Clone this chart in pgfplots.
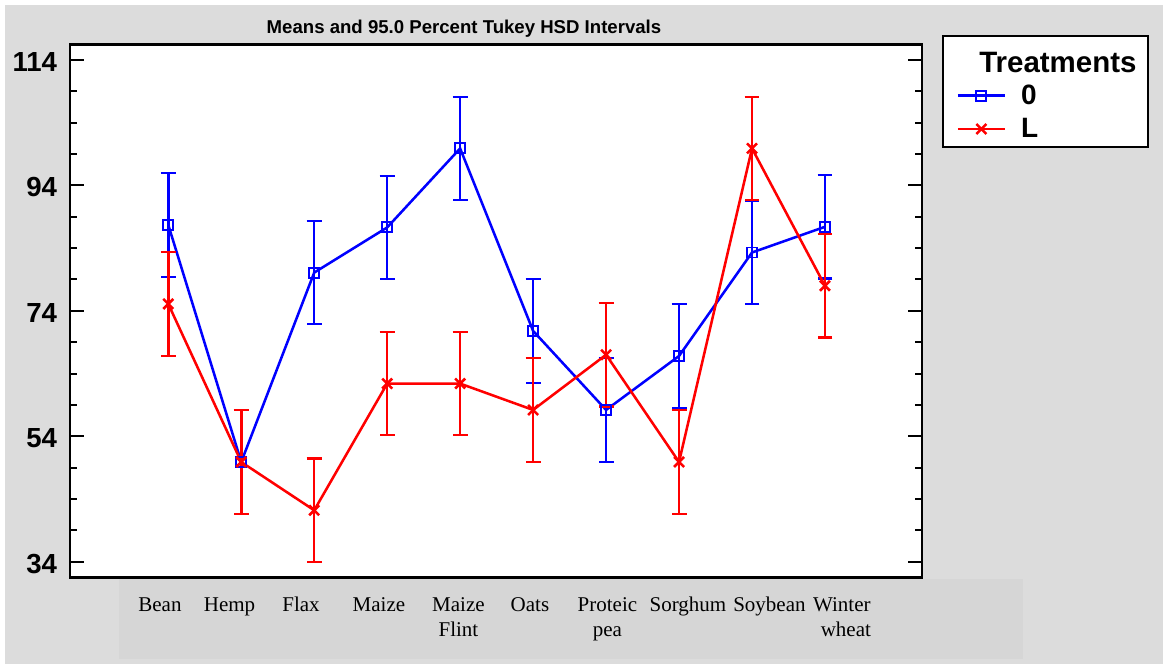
\documentclass[border=0pt]{standalone}
\usepackage{fontspec}
\setmainfont{Liberation Serif}
\newfontfamily\arial{Liberation Sans}
\usepackage{pgfplots}
\pgfplotsset{compat=1.18}
\definecolor{panelgray}{RGB}{220,220,220}
\definecolor{labelgray}{RGB}{214,214,214}

\begin{document}
\begin{tikzpicture}
% panel, category strip, title and legend frame (1 unit = 1 px)
\begin{scope}[x=0.75pt,y=0.75pt]
  \fill[white] (0,0) rectangle (1163,664);
  \fill[panelgray] (5,0) rectangle (1163,659);
  \fill[labelgray] (119.3,4.7) rectangle (1023,84.7);
  \node[anchor=base, inner sep=0pt, font=\arial\bfseries\fontsize{13.95}{16}\selectfont]
    at (464,630.7) {Means and 95.0 Percent Tukey HSD Intervals};
  \draw[line width=1.5pt, fill=white] (943.3,628.3) rectangle (1148.3,517.3);
  \node[anchor=base west, inner sep=0pt, font=\arial\bfseries\fontsize{22.1}{26}\selectfont]
    at (979,591.3) {Treatments};
\end{scope}

\begin{axis}[
  at={(52.5pt,64.725pt)}, anchor=south west,
  scale only axis, width=639pt, height=400.05pt,
  xmin=-1.347, xmax=10.33, ymin=31.45, ymax=116.5,
  axis background/.style={fill=white},
  axis line style={line width=1.9pt, black},
  ytick={34,54,74,94,114},
  yticklabels={34,54,74,94,114},
  minor ytick={39,44,49,59,64,69,79,84,89,99,104,109},
  ytick pos=both, yticklabel pos=left,
  tick align=inside,
  major tick length=10.5pt, minor tick length=5.25pt,
  tick style={line width=1.5pt, black},
  y tick label style={font=\arial\bfseries\fontsize{20.7}{24}\selectfont,
    inner sep=0pt, xshift=-9.5pt, yshift=-1.5pt},
  xtick={-0.114,0.839,1.819,2.887,3.977,4.957,6.019,7.122,8.239,9.232},
  xticklabels={Bean, Hemp, Flax, Maize, {Maize\\Flint}, Oats, {Proteic\\pea},
    Sorghum, Soybean, {Winter\\\hspace*{6pt}wheat}},
  x tick style={draw=none},
  x tick label style={anchor=north, inner sep=0pt, yshift=-14.5pt, align=center,
    font=\fontsize{15.75}{18.75}\selectfont},
  legend style={at={(1.0407,0.924)}, anchor=north west, draw=none, fill=none,
    inner sep=0pt, outer sep=0pt, row sep=9pt,
    font=\arial\bfseries\fontsize{21}{25}\selectfont,
    nodes={inner sep=0pt}},
  legend cell align=left,
  legend image code/.code={
    \draw[mark repeat=2, mark phase=2, #1]
      plot coordinates {(0pt,0pt) (17.6pt,0pt) (35.25pt,0pt)};
    \path (46.5pt,0pt);
  },
]
% treatment 0
\addplot[blue, line width=1.9pt, mark=square, mark size=3.75pt,
  mark options={line width=1.4pt, solid},
  error bars/.cd, y dir=both, y explicit, error mark=|,
  error bar style={line width=1.9pt},
  error mark options={line width=1.6pt, mark size=5.6pt}]
coordinates {
  (0,87.7) +- (0,8.25)
  (1,49.9) +- (0,8.25)
  (2,80.1) +- (0,8.25)
  (3,87.3) +- (0,8.25)
  (4,99.9) +- (0,8.25)
  (5,70.8) +- (0,8.25)
  (6,58.2) +- (0,8.25)
  (7,66.8) +- (0,8.25)
  (8,83.3) +- (0,8.25)
  (9,87.4) +- (0,8.25)
};
\addlegendentry{0}
% treatment L
\addplot[red, line width=1.9pt, mark=x, mark size=5.3pt,
  mark options={line width=1.9pt, solid},
  error bars/.cd, y dir=both, y explicit, error mark=|,
  error bar style={line width=1.9pt},
  error mark options={line width=1.6pt, mark size=5.6pt}]
coordinates {
  (0,75.1) +- (0,8.25)
  (1,49.9) +- (0,8.25)
  (2,42.2) +- (0,8.25)
  (3,62.4) +- (0,8.25)
  (4,62.4) +- (0,8.25)
  (5,58.2) +- (0,8.25)
  (6,67.0) +- (0,8.25)
  (7,49.9) +- (0,8.25)
  (8,99.9) +- (0,8.25)
  (9,78.0) +- (0,8.25)
};
\addlegendentry{L}
\end{axis}
\end{tikzpicture}
\end{document}
